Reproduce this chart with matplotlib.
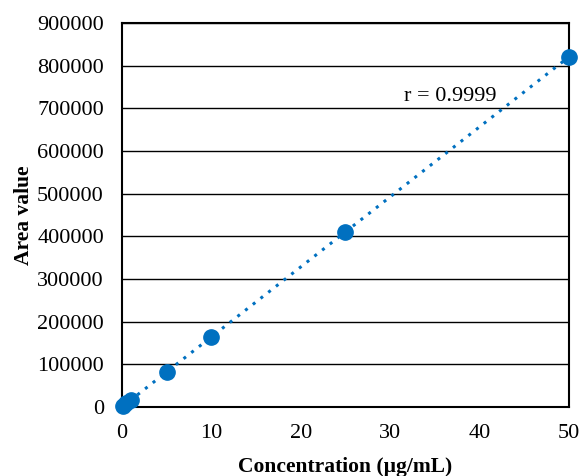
import numpy as np
import matplotlib.pyplot as plt

plt.rcParams["font.family"] = ["Liberation Serif", "DejaVu Serif"]

concentration = [0.1, 0.5, 1, 5, 10, 25, 50]
area = [1600, 8200, 16300, 82500, 164000, 411000, 820000]
r_label = "r = 0.9999"

BLUE = "#0070C0"

fig = plt.figure(figsize=(5.82, 4.76), dpi=100)
ax = fig.add_axes([0.2096, 0.145, 0.768, 0.807])

slope, intercept = np.polyfit(concentration, area, 1)
xs = np.array([0, max(concentration)])
ax.plot(xs, slope * xs + intercept, linestyle=(0, (1, 2.2)), color=BLUE, lw=2.2, zorder=3)
ax.plot(concentration, area, "o", color=BLUE, markersize=11, zorder=4, clip_on=False)

ax.set_xlim(0, 50)
ax.set_ylim(0, 900000)
ax.set_xticks(range(0, 51, 10))
ax.set_yticks(range(0, 900001, 100000))
ax.yaxis.grid(True, color="black", lw=1)
ax.set_axisbelow(True)
ax.tick_params(length=0, labelsize=16)
ax.tick_params(axis="y", pad=13)
ax.tick_params(axis="x", pad=12)
for s in ax.spines.values():
    s.set_linewidth(1.5)

ax.set_xlabel("Concentration (µg/mL)", fontsize=15.5, fontweight="bold", labelpad=10)
ax.set_ylabel("Area value", fontsize=15.5, fontweight="bold", labelpad=2)
ax.text(36.7, 728000, r_label, ha="center", va="center", fontsize=16)

fig.savefig("out.png", dpi=100)
